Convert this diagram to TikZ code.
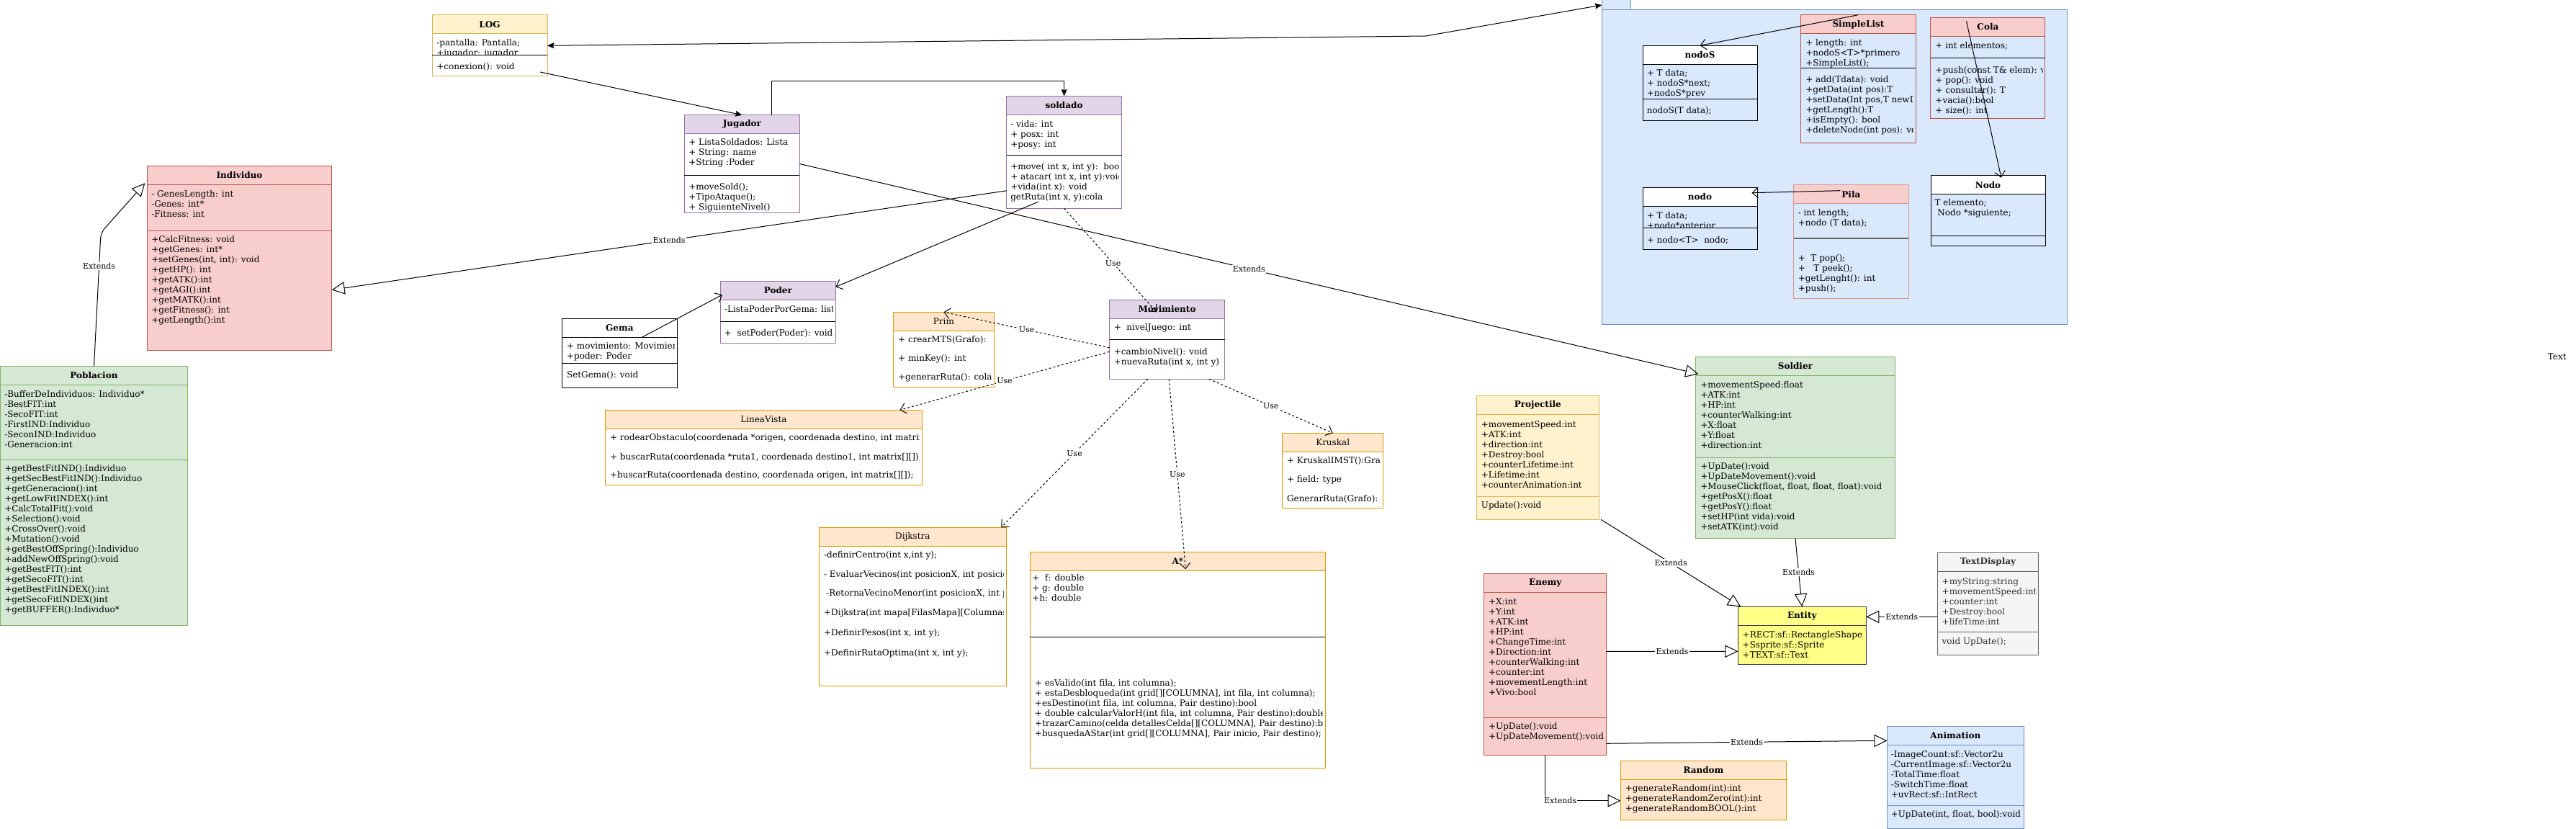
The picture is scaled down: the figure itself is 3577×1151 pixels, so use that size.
\documentclass[tikz,border=0pt]{standalone}
\usepackage{fontspec}
\setmainfont{DejaVu Serif}
\usetikzlibrary{arrows.meta,calc}
\definecolor{yelfill}{HTML}{FFF2CC}\definecolor{yelline}{HTML}{D6B656}
\definecolor{purfill}{HTML}{E1D5E7}\definecolor{purline}{HTML}{9673A6}
\definecolor{redfill}{HTML}{F8CECC}\definecolor{redline}{HTML}{B85450}
\definecolor{grnfill}{HTML}{D5E8D4}\definecolor{grnline}{HTML}{82B366}
\definecolor{orgfill}{HTML}{FFE6CC}\definecolor{orgline}{HTML}{D79B00}
\definecolor{blufill}{HTML}{DAE8FC}\definecolor{bluline}{HTML}{6C8EBF}
\definecolor{gryfill}{HTML}{F5F5F5}\definecolor{gryline}{HTML}{666666}
\definecolor{grytext}{HTML}{333333}
\definecolor{entfill}{HTML}{FFFF88}\definecolor{entline}{HTML}{36393D}
\colorlet{pilaline}{redline!60!white}
\tikzset{umlbox/.style={draw, anchor=north west, inner sep=0pt, outer sep=0pt, line width=0.75pt}}
\tikzset{umlhead/.style={draw, anchor=north west, inner sep=0pt, outer sep=0pt, line width=0.75pt, font=\fontsize{9}{10.5}\selectfont\bfseries}}
\tikzset{plainhead/.style={font=\fontsize{9}{10.5}\selectfont}}
\tikzset{boxsize/.style 2 args={minimum width=#1*0.75pt, minimum height=#2*0.75pt}}
\tikzset{member/.style={anchor=west, inner sep=0pt, align=left, font=\fontsize{9}{10.5}\selectfont}}
\tikzset{sepline/.style={line width=0.75pt}}
\tikzset{edgelabel/.style={fill=white, inner sep=1pt, font=\fontsize{8.25}{9.9}\selectfont}}
\tikzset{extends/.style={line width=0.75pt, -{Triangle[open, length=13.5pt, width=13pt]}}}
\tikzset{uses/.style={line width=0.75pt, dash pattern=on 2.25pt off 2.25pt, -{Straight Barb[length=6pt, width=11pt]}}}
\tikzset{assocopen/.style={line width=0.75pt, -{Straight Barb[length=6pt, width=11pt]}}}
\tikzset{assoc/.style={line width=0.75pt, -{Stealth[length=7pt, width=6pt, inset=1pt]}}}
\tikzset{assocboth/.style={line width=0.75pt, {Stealth[length=7pt, width=6pt, inset=1pt]}-{Stealth[length=7pt, width=6pt, inset=1pt]}}}

\begin{document}
\begin{tikzpicture}[x=0.75pt, y=-0.75pt]
\useasboundingbox (0,0) rectangle (3577,1151);

% LOG
\node[umlbox, fill=white, draw=yelline, boxsize={160}{85.3}] (log) at (600,20.7) {};
\node[umlhead, fill=yelfill, draw=yelline, boxsize={160}{26}] (loghead) at (log.north west) {LOG};
\begin{scope}
\clip (600,46.3) rectangle (760,76.3);
\node[member] (logattr) at (606,67) {-pantalla: Pantalla;\\+jugador: jugador};
\end{scope}
\draw[sepline] ($(log.north west)+(0,55.6)$) -- ++(160,0);
\node[member] (logmeth) at (606,93) {+conexion(): void};

% Jugador
\node[umlbox, fill=white, draw=purline, boxsize={160}{135.6}] (jugador) at (950.4,159.7) {};
\node[umlhead, fill=purfill, draw=purline, boxsize={160}{26}] (jugadorhead) at (jugador.north west) {Jugador};
\draw[sepline] ($(jugador.north west)+(0,83.6)$) -- ++(160,0);
\node[member] (jugadorattr) at (956,212) {+ ListaSoldados: Lista\\+ String: name\\+String :Poder};
\node[member] (jugadormeth) at (956,274) {+moveSold();\\+TipoAtaque();\\+ SiguienteNivel()};

% soldado
\node[umlbox, fill=white, draw=purline, boxsize={160}{156}] (soldado) at (1397.6,133.3) {};
\node[umlhead, fill=purfill, draw=purline, boxsize={160}{26}] (soldadohead) at (soldado.north west) {soldado};
\draw[sepline] ($(soldado.north west)+(0,82)$) -- ++(160,0);
\begin{scope}
\clip (1397.6,133.3) rectangle (1553.5,289.3);
\node[member] (soldadoattr) at (1403,187) {- vida: int\\+ posx: int\\+posy: int};
\node[member] (soldadometh) at (1403,253) {+move( int x, int y):\ \ bool\\+ atacar( int x, int y):void\\+vida(int x): void\\getRuta(int x, y):cola};
\end{scope}

% Individuo
\node[umlbox, fill=redfill, draw=redline, boxsize={256.4}{256}] (individuo) at (204.3,230.3) {};
\node[umlhead, fill=redfill, draw=redline, boxsize={256.4}{26}] (individuohead) at (individuo.north west) {Individuo};
\draw[sepline, redline] ($(individuo.north west)+(0,90)$) -- ++(256.4,0);
\node[member] (individuoattr) at (210,283.3) {- GenesLength: int\\-Genes: int*\\-Fitness: int};
\node[member] (individuometh) at (210,389.3) {+CalcFitness: void\\+getGenes: int*\\+setGenes(int, int): void\\+getHP(): int\\+getATK():int\\+getAGI():int\\+getMATK():int\\+getFitness(): int\\+getLength():int};

% Poblacion
\node[umlbox, fill=grnfill, draw=grnline, boxsize={259.6}{360}] (poblacion) at (0.7,508.3) {};
\node[umlhead, fill=grnfill, draw=grnline, boxsize={259.6}{26}] (poblacionhead) at (poblacion.north west) {Poblacion};
\draw[sepline, grnline] ($(poblacion.north west)+(0,130)$) -- ++(259.6,0);
\node[member] (poblacionattr) at (6,582.3) {-BufferDeIndividuos: Individuo*\\-BestFIT:int\\-SecoFIT:int\\-FirstIND:Individuo\\-SeconIND:Individuo\\-Generacion:int};
\node[member] (poblacionmeth) at (6,749.3) {+getBestFitIND():Individuo\\+getSecBestFitIND():Individuo\\+getGeneracion():int\\+getLowFitINDEX():int\\+CalcTotalFit():void\\+Selection():void\\+CrossOver():void\\+Mutation():void\\+getBestOffSpring():Individuo\\+addNewOffSpring():void\\+getBestFIT():int\\+getSecoFIT():int\\+getBestFitINDEX():int\\+getSecoFitINDEX()int\\+getBUFFER():Individuo*};

% Poder
\node[umlbox, fill=white, draw=purline, boxsize={160}{86}] (poder) at (1000.4,390.3) {};
\node[umlhead, fill=purfill, draw=purline, boxsize={160}{26}] (poderhead) at (poder.north west) {Poder};
\draw[sepline] ($(poder.north west)+(0,56)$) -- ++(160,0);
\begin{scope}
\clip (1000.4,390.3) rectangle (1156,476.3);
\node[member] (poderattr) at (1005.7,429.3) {-ListaPoderPorGema: list};
\node[member] (podermeth) at (1005.7,463.3) {+\ \ setPoder(Poder): void};
\end{scope}

% Gema
\node[umlbox, fill=white, draw=black, boxsize={160}{96}] (gema) at (780.4,442.3) {};
\node[umlhead, fill=white, draw=black, boxsize={160}{26}] (gemahead) at (gema.north west) {Gema};
\draw[sepline] ($(gema.north west)+(0,62.4)$) -- ++(160,0);
\begin{scope}
\clip (780.4,442.3) rectangle (936,538.3);
\node[member] (gemaattr) at (786.8,488.3) {+ movimiento: Movimiento\\+poder: Poder};
\node[member] (gemameth) at (786.8,521.3) {SetGema(): void};
\end{scope}

% LineaVista
\node[umlbox, fill=white, draw=orgline, boxsize={440}{104}] (lineavista) at (840.4,569.3) {};
\node[umlhead, plainhead, fill=orgfill, draw=orgline, boxsize={440}{26}] (lineavistahead) at (lineavista.north west) {LineaVista};
\begin{scope}
\clip (840.4,569.3) rectangle (1276,673.3);
\node[member] (lineavista1) at (846.8,608.7) {+ rodearObstaculo(coordenada *origen, coordenada destino, int matrix[][]);};
\node[member] (lineavista2) at (846.8,634.7) {+ buscarRuta(coordenada *ruta1, coordenada destino1, int matrix[][]);};
\node[member] (lineavista3) at (846.8,660.7) {+buscarRuta(coordenada destino, coordenada origen, int matrix[][]);};
\end{scope}

% Prim
\node[umlbox, fill=white, draw=orgline, boxsize={140}{104}] (prim) at (1240.4,433.3) {};
\node[umlhead, plainhead, fill=orgfill, draw=orgline, boxsize={140}{26}] (primhead) at (prim.north west) {Prim};
\node[member] (prim1) at (1246.9,472.3) {+ crearMTS(Grafo):};
\node[member] (prim2) at (1246.9,498.3) {+ minKey(): int};
\node[member] (prim3) at (1246.9,524.3) {+generarRuta(): cola};

% Movimiento
\node[umlbox, fill=white, draw=purline, boxsize={160}{110}] (movimiento) at (1540.5,416.3) {};
\node[umlhead, fill=purfill, draw=purline, boxsize={160}{26}] (movimientohead) at (movimiento.north west) {Movimiento};
\draw[sepline] ($(movimiento.north west)+(0,55.7)$) -- ++(160,0);
\node[member] (movimientoattr) at (1546.5,455.7) {+\ \ nivelJuego: int};
\node[member] (movimientometh) at (1546.5,496.3) {+cambioNivel(): void\\+nuevaRuta(int x, int y)};

% Kruskal
\node[umlbox, fill=white, draw=orgline, boxsize={140}{104}] (kruskal) at (1780.7,601.3) {};
\node[umlhead, plainhead, fill=orgfill, draw=orgline, boxsize={140}{26}] (kruskalhead) at (kruskal.north west) {Kruskal};
\begin{scope}
\clip (1780.7,601.3) rectangle (1916.7,705.3);
\node[member] (kruskal1) at (1786.8,640) {+ KruskalIMST():Grafo};
\node[member] (kruskal2) at (1786.8,666.7) {+ field: type};
\node[member] (kruskal3) at (1786.8,692.7) {GenerarRuta(Grafo):};
\end{scope}

% Dijkstra
\node[umlbox, fill=white, draw=orgline, boxsize={260}{220}] (dijkstra) at (1137.3,732.3) {};
\node[umlhead, plainhead, fill=orgfill, draw=orgline, boxsize={260}{26}] (dijkstrahead) at (dijkstra.north west) {Dijkstra};
\begin{scope}
\clip (1137.3,732.3) rectangle (1393.3,952.3);
\node[member] (dijkstra1) at (1143.8,771.7) {-definirCentro(int x,int y);};
\node[member] (dijkstra2) at (1143.8,797.7) {- EvaluarVecinos(int posicionX, int posicionY);};
\node[member] (dijkstra3) at (1147,823.7) {-RetornaVecinoMenor(int posicionX, int posicionY);};
\node[member] (dijkstra4) at (1143.8,851.7) {+Dijkstra(int mapa[FilasMapa][ColumnasMapa]);};
\node[member] (dijkstra5) at (1143.8,879.7) {+DefinirPesos(int x, int y);};
\node[member] (dijkstra6) at (1143.8,907.7) {+DefinirRutaOptima(int x, int y);};
\end{scope}

% A*
\node[umlbox, fill=white, draw=orgline, boxsize={410}{300}] (astar) at (1430.3,766.3) {};
\node[umlhead, fill=orgfill, draw=orgline, boxsize={410}{26}] (astarhead) at (astar.north west) {A*};
\draw[sepline] ($(astar.north west)+(0,118)$) -- ++(410,0);
\begin{scope}
\clip (1430.3,766.3) rectangle (1836.3,1066.3);
\node[member] (astarattr) at (1433,816.3) {+\ \ f: double\\+ g: double\\+h: double};
\node[member] (astarmeth) at (1436.7,984.3) {+ esValido(int fila, int columna);\\+ estaDesbloqueda(int grid[][COLUMNA], int fila, int columna);\\+esDestino(int fila, int columna, Pair destino):bool\\+ double calcularValorH(int fila, int columna, Pair destino):double\\+trazarCamino(celda detallesCelda[][COLUMNA], Pair destino):bool\\+busquedaAStar(int grid[][COLUMNA], Pair inicio, Pair destino);};
\end{scope}

% package of lists
\node[umlbox, fill=blufill, draw=bluline, boxsize={40.4}{14}] (pkgtab) at (2224.2,0) {};
\node[umlbox, fill=blufill, draw=bluline, boxsize={646.1}{436.7}] (pkg) at (2224.2,14) {};

% nodoS
\node[umlbox, draw=black, boxsize={159}{104}] (nodos) at (2281,63.3) {};
\node[umlhead, fill=white, draw=black, boxsize={159}{26}] (nodoshead) at (nodos.north west) {nodoS};
\draw[sepline] ($(nodos.north west)+(0,74)$) -- ++(159,0);
\node[member] (nodosattr) at (2286.5,116) {+ T data;\\+ nodoS*next;\\+nodoS*prev};
\node[member] (nodosmeth) at (2286.5,154) {nodoS(T data);};

% SimpleList
\node[umlbox, draw=redline, boxsize={159.5}{178}] (simplelist) at (2500.7,20.7) {};
\node[umlhead, fill=redfill, draw=redline, boxsize={159.5}{26}] (simplelisthead) at (simplelist.north west) {SimpleList};
\begin{scope}
\clip (2500.7,46.3) rectangle (2656.2,94.7);
\node[member] (simplelistattr) at (2507,74) {+ length: int\\+nodoS<T>*primero\\+SimpleList();};
\end{scope}
\draw[sepline] ($(simplelist.north west)+(0,74)$) -- ++(159.5,0);
\begin{scope}
\clip (2500.7,20.7) rectangle (2656.2,198.7);
\node[member] (simplelistmeth) at (2507,146) {+ add(Tdata): void\\+getData(int pos):T\\+setData(Int pos,T newData)\\+getLength():T\\+isEmpty(): bool\\+deleteNode(int pos): void};
\end{scope}

% Cola
\node[umlbox, draw=redline, boxsize={159}{140}] (cola) at (2680.9,24.3) {};
\node[umlhead, fill=redfill, draw=redline, boxsize={159}{26}] (colahead) at (cola.north west) {Cola};
\draw[sepline] ($(cola.north west)+(0,56)$) -- ++(159,0);
\begin{scope}
\clip (2680.9,24.3) rectangle (2836.9,164.3);
\node[member] (colaattr) at (2687.2,63.3) {+ int elementos;};
\node[member] (colameth) at (2687.2,125.7) {+push(const T\& elem): void\\+ pop(): void\\+ consultar(): T\\+vacia():bool\\+ size(): int};
\end{scope}

% Nodo
\node[umlbox, draw=black, boxsize={159}{97.6}] (nodoc) at (2681,243.7) {};
\node[umlhead, fill=white, draw=black, boxsize={159}{26}] (nodochead) at (nodoc.north west) {Nodo};
\draw[sepline] ($(nodoc.north west)+(0,83.6)$) -- ++(159,0);
\node[member] (nodocattr) at (2686.3,289.7) {T elemento;\\\ Nodo *siguiente;};

% nodo
\node[umlbox, draw=black, boxsize={159}{86}] (nodop) at (2281,260.3) {};
\node[umlhead, fill=white, draw=black, boxsize={159}{26}] (nodophead) at (nodop.north west) {nodo};
\begin{scope}
\clip (2281,286.3) rectangle (2440,316.3);
\node[member] (nodopattr) at (2286.5,306.3) {+ T data;\\+nodo*anterior};
\end{scope}
\draw[sepline] ($(nodop.north west)+(0,56)$) -- ++(159,0);
\node[member] (nodopmeth) at (2286.5,333.3) {+ nodo<T>\ \ nodo;};

% Pila
\node[umlbox, draw=pilaline, boxsize={159.5}{158.3}] (pila) at (2490.6,256.7) {};
\node[umlhead, fill=redfill, draw=pilaline, boxsize={159.5}{26}] (pilahead) at (pila.north west) {Pila};
\draw[line width=1.5pt, gryline] ($(pila.north west)+(0,74.3)$) -- ++(159.5,0);
\node[member] (pilaattr) at (2496.5,303.3) {- int length;\\+nodo (T data);};
\node[member] (pilameth) at (2496.5,379.7) {+\ \ T pop();\\+\ \ \ T peek();\\+getLenght(): int\\+push();};

% Soldier
\node[umlbox, fill=grnfill, draw=grnline, boxsize={277}{252}] (soldier) at (2354.4,495.3) {};
\node[umlhead, fill=grnfill, draw=grnline, boxsize={277}{26}] (soldierhead) at (soldier.north west) {Soldier};
\draw[sepline, grnline] ($(soldier.north west)+(0,140)$) -- ++(277,0);
\node[member] (soldierattr) at (2361,576.3) {+movementSpeed:float\\+ATK:int\\+HP:int\\+counterWalking:int\\+X:float\\+Y:float\\+direction:int};
\node[member] (soldiermeth) at (2361,690.3) {+UpDate():void\\+UpDateMovement():void\\+MouseClick(float, float, float, float):void\\+getPosX():float\\+getPosY():float\\+setHP(int vida):void\\+setATK(int):void};

% Projectile
\node[umlbox, fill=yelfill, draw=yelline, boxsize={170}{172}] (projectile) at (2050.3,549.3) {};
\node[umlhead, fill=yelfill, draw=yelline, boxsize={170}{26}] (projectilehead) at (projectile.north west) {Projectile};
\draw[sepline, yelline] ($(projectile.north west)+(0,140.4)$) -- ++(170,0);
\node[member] (projectileattr) at (2056.6,630.7) {+movementSpeed:int\\+ATK:int\\+direction:int\\+Destroy:bool\\+counterLifetime:int\\+Lifetime:int\\+counterAnimation:int};
\node[member] (projectilemeth) at (2056.6,702.3) {Update():void};

% Enemy
\node[umlbox, fill=redfill, draw=redline, boxsize={170}{252}] (enemy) at (2060.7,796.3) {};
\node[umlhead, fill=redfill, draw=redline, boxsize={170}{26}] (enemyhead) at (enemy.north west) {Enemy};
\draw[sepline, redline] ($(enemy.north west)+(0,200.4)$) -- ++(170,0);
\begin{scope}
\clip (2060.7,796.3) rectangle (2226.7,1048.3);
\node[member] (enemyattr) at (2066.8,898.3) {+X:int\\+Y:int\\+ATK:int\\+HP:int\\+ChangeTime:int\\+Direction:int\\+counterWalking:int\\+counter:int\\+movementLength:int\\+Vivo:bool};
\node[member] (enemymeth) at (2066.8,1016.3) {+UpDate():void\\+UpDateMovement():void};
\end{scope}

% Entity
\node[umlbox, fill=entfill, draw=entline, boxsize={178}{80.4}] (entity) at (2413.3,842.3) {};
\node[umlhead, fill=entfill, draw=entline, boxsize={178}{26}] (entityhead) at (entity.north west) {Entity};
\begin{scope}
\clip (2413.3,842.3) rectangle (2587.3,922.7);
\node[member] (entityattr) at (2419.4,895.3) {+RECT:sf::RectangleShape\\+Ssprite:sf::Sprite\\+TEXT:sf::Text};
\end{scope}

% TextDisplay
\node[umlbox, fill=gryfill, draw=gryline, boxsize={140.3}{142}] (textdisplay) at (2690.3,767.3) {};
\node[umlhead, fill=gryfill, draw=gryline, text=grytext, boxsize={140.3}{26}] (textdisplayhead) at (textdisplay.north west) {TextDisplay};
\draw[sepline, gryline] ($(textdisplay.north west)+(0,110)$) -- ++(140.3,0);
\begin{scope}
\clip (2690.3,767.3) rectangle (2826.6,909.3);
\node[member, text=grytext] (textdisplayattr) at (2696.4,834.7) {+myString:string\\+movementSpeed:int\\+counter:int\\+Destroy:bool\\+lifeTime:int};
\node[member, text=grytext] (textdisplaymeth) at (2696.4,890.7) {void UpDate();};
\end{scope}

% Animation
\node[umlbox, fill=blufill, draw=bluline, boxsize={190}{142}] (animation) at (2620.4,1008.3) {};
\node[umlhead, fill=blufill, draw=bluline, boxsize={190}{26}] (animationhead) at (animation.north west) {Animation};
\draw[sepline, bluline] ($(animation.north west)+(0,110.4)$) -- ++(190,0);
\begin{scope}
\clip (2620.4,1008.3) rectangle (2806.4,1150.3);
\node[member] (animationattr) at (2625.5,1075.3) {-ImageCount:sf::Vector2u\\-CurrentImage:sf::Vector2u\\-TotalTime:float\\-SwitchTime:float\\+uvRect:sf::IntRect};
\node[member] (animationmeth) at (2625.5,1131.3) {+UpDate(int, float, bool):void};
\end{scope}

% Random
\node[umlbox, fill=orgfill, draw=orgline, boxsize={230}{82}] (random) at (2250.5,1056.3) {};
\node[umlhead, fill=orgfill, draw=orgline, boxsize={230}{26}] (randomhead) at (random.north west) {Random};
\node[member] (randomattr) at (2256.6,1109.3) {+generateRandom(int):int\\+generateRandomZero(int):int\\+generateRandomBOOL():int};

% free text
\node[member, anchor=center] (freetext) at (3550.7,495.3) {Text};

% connectors
\draw[assocboth] (log.east) -- (1980,50) -- (pkgtab.west);
\draw[assoc] ($(log.south east)+(-10,-6)$) -- (jugador.north);
\draw[assoc] ($(jugador.north)+(41,0)$) |- ($(soldado.north)+(0,-20.6)$) -- (soldado.north);
\draw[extends] ($(soldado.west)+(0,53.5)$) -- node[edgelabel] {Extends} ($(individuo.east)+(0,44.2)$);
\draw[assocopen] ($(soldado.south west)+(44,-9)$) -- ($(poder.north east)+(0,8)$);
\draw[assocopen] ($(gema.north west)+(111,26)$) -- ($(poder.north west)+(2.5,19)$);
\draw[extends, rounded corners=6pt] (poblacion.north) -- node[edgelabel, pos=0.75] {Extends} (140,323) -- ($(individuo.north west)+(-3,24)$);
\draw[extends] (jugador.east) -- node[edgelabel] {Extends} ($(soldier.north west)+(4,24)$);
\draw[uses] (soldado.south) -- node[edgelabel, pos=0.53] {Use} ($(movimiento.north)+(-14.5,17)$);
\draw[uses] ($(movimiento.west)+(0,11.4)$) -- node[edgelabel] {Use} (prim.north);
\draw[uses] ($(movimiento.west)+(0,17)$) -- node[edgelabel] {Use} ($(lineavista.north east)+(-31,0)$);
\draw[uses] ($(movimiento.south east)+(-21.7,0)$) -- node[edgelabel] {Use} (kruskal.north);
\draw[uses] ($(movimiento.south)+(-26.7,0)$) -- node[edgelabel] {Use} ($(dijkstra.north east)+(-7,0)$);
\draw[uses] ($(movimiento.south)+(2.8,0)$) -- node[edgelabel] {Use} ($(astar.north)+(11,24)$);
\draw[assocopen] (simplelist.north) -- (nodos.north);
\draw[assocopen] ($(cola.north west)+(49.6,5)$) -- ($(nodoc.north)+(18.4,3)$);
\draw[assocopen] ($(pila.north west)+(64.8,8)$) -- ($(nodop.north east)+(-7.5,7.4)$);
\draw[extends] ($(projectile.south east)+(2.7,0)$) -- node[edgelabel] {Extends} ($(entity.north west)+(4,0)$);
\draw[extends] (soldier.south) -- node[edgelabel] {Extends} (entity.north);
\draw[extends] ($(textdisplay.west)+(0,18)$) -- node[edgelabel] {Extends} ($(entity.east)+(0,-26.2)$);
\draw[extends] ($(enemy.east)+(0,-18)$) -- node[edgelabel] {Extends} ($(entity.west)+(0,21.8)$);
\draw[extends] ($(enemy.south east)+(0,-16)$) -- node[edgelabel] {Extends} ($(animation.west)+(0,-51)$);
\draw[extends] (enemy.south) |- node[edgelabel, pos=0.6] {Extends} ($(random.west)+(0,14.4)$);
\end{tikzpicture}
\end{document}
